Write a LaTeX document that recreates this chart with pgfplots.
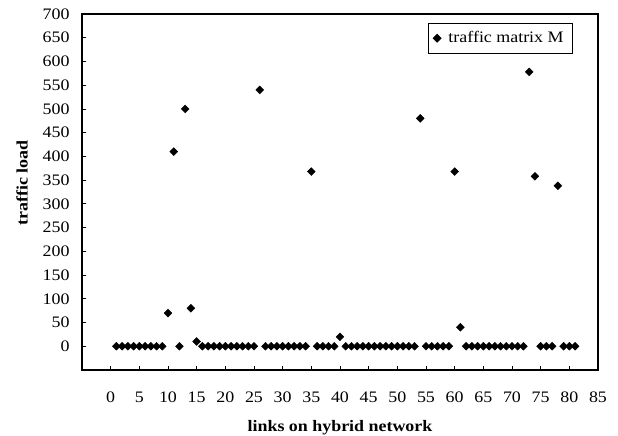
\documentclass[border=0pt]{standalone}
\usepackage{fontspec}
\setmainfont{Liberation Serif}[FakeStretch=1.12]
\usepackage{pgfplots}
\pgfplotsset{compat=1.18}

% traffic load per link (link number, load)
\pgfplotstableread{
x y
1 0
2 0
3 0
4 0
5 0
6 0
7 0
8 0
9 0
10 70
11 410
12 0
13 500
14 80
15 10
16 0
17 0
18 0
19 0
20 0
21 0
22 0
23 0
24 0
25 0
26 540
27 0
28 0
29 0
30 0
31 0
32 0
33 0
34 0
35 368
36 0
37 0
38 0
39 0
40 20
41 0
42 0
43 0
44 0
45 0
46 0
47 0
48 0
49 0
50 0
51 0
52 0
53 0
54 480
55 0
56 0
57 0
58 0
59 0
60 368
61 40
62 0
63 0
64 0
65 0
66 0
67 0
68 0
69 0
70 0
71 0
72 0
73 578
74 358
75 0
76 0
77 0
78 338
79 0
80 0
81 0
}\loadtable

\begin{document}
\fontsize{16bp}{19bp}\selectfont
\begin{tikzpicture}
\path[use as bounding box] (-82bp,-66bp) rectangle (536bp,370bp);
\begin{axis}[
    scale only axis,
    width=516bp, height=356bp,
    at={(0,0)}, anchor=south west,
    xmin=-5, xmax=85, ymin=-50, ymax=700,
    xtick={0,5,...,85}, ytick={0,50,...,700},
    tick align=inside,
    tick pos=left,
    major tick length=4bp,
    tick style={black, line width=0.8bp},
    axis line style={black, line width=1.2bp},
    /pgf/number format/assume math mode=true,
    ticklabel style={font=\fontsize{16bp}{19bp}\selectfont},
    xticklabel style={yshift=-16bp},
    yticklabel style={xshift=-7bp},
    xlabel={\textbf{links on hybrid network}},
    ylabel={\textbf{traffic load}},
    xlabel style={at={(axis description cs:0.5,-0.163)}, anchor=center},
    ylabel style={at={(axis description cs:-0.116,0.526)}, anchor=center},
    legend style={at={(1,1)}, anchor=north east, xshift=-25bp, yshift=-9bp,
        draw=black, line width=0.8bp, font=\fontsize{16bp}{19bp}\selectfont,
        inner xsep=7bp, inner ysep=6bp},
    legend image code/.code={\path (0bp,0bp) (10bp,0bp); \draw[#1, overlay] plot coordinates {(1bp,0bp)};},
]
\addplot[only marks, mark=square*, mark size=2.8pt, mark options={rotate=45, black, fill=black}]
    table[x=x, y=y] {\loadtable};
\addlegendentry{traffic matrix M}
\end{axis}
\end{tikzpicture}
\end{document}
